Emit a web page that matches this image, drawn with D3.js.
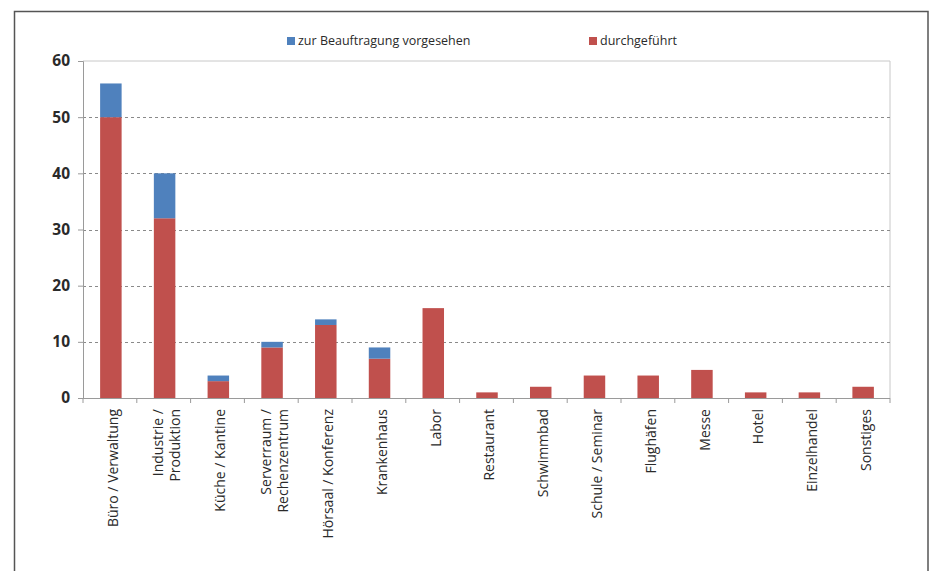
<!DOCTYPE html>
<html>
<head>
<meta charset="utf-8">
<script src="https://cdn.jsdelivr.net/npm/d3@7/dist/d3.min.js"></script>
<style>
  html, body { margin: 0; padding: 0; background: #fff; }
  svg { display: block; font-family: "Open Sans", "Liberation Sans", sans-serif; }
</style>
</head>
<body>
<svg id="chart" width="932" height="571"></svg>
<script>
// Categories (label lines for the rotated axis text)
const categories = [
  ["Büro / Verwaltung"],
  ["Industrie /", "Produktion"],
  ["Küche / Kantine"],
  ["Serverraum /", "Rechenzentrum"],
  ["Hörsaal / Konferenz"],
  ["Krankenhaus"],
  ["Labor"],
  ["Restaurant"],
  ["Schwimmbad"],
  ["Schule / Seminar"],
  ["Flughäfen"],
  ["Messe"],
  ["Hotel"],
  ["Einzelhandel"],
  ["Sonstiges"]
];
// Completed projects
const durchgefuehrt = [50, 32, 3, 9, 13, 7, 16, 1, 2, 4, 4, 5, 1, 1, 2];
// Projects planned for commissioning
const vorgesehen    = [6, 8, 1, 1, 1, 2, 0, 0, 0, 0, 0, 0, 0, 0, 0];
const yTicks = [0, 10, 20, 30, 40, 50, 60];
const seriesNames = ["zur Beauftragung vorgesehen", "durchgeführt"];
const seriesColors = ["#4F81BD", "#C0504D"];

const svg = d3.select("#chart");

// outer frame
svg.append("rect")
  .attr("x", 14.5).attr("y", 11.5)
  .attr("width", 913.5).attr("height", 600)
  .attr("fill", "#fff").attr("stroke", "#555").attr("stroke-width", 1.5);

const plot = { left: 83, top: 61, right: 890, bottom: 398 };

const keys = categories.map((c, i) => i);
const x = d3.scaleBand().domain(keys).range([plot.left + 1, plot.right]).paddingInner(0.6).paddingOuter(0.3);
const xOuter = d3.scaleBand().domain(keys).range([plot.left, plot.right]);
const y = d3.scaleLinear().domain([0, 60]).range([plot.bottom, plot.top]);

// plot area border (top/right)
svg.append("path")
  .attr("d", `M${plot.left},${plot.top}H${plot.right}V${plot.bottom}`)
  .attr("fill", "none").attr("stroke", "#c8c8c8").attr("stroke-width", 1);

// dashed gridlines
svg.append("g").selectAll("line")
  .data(yTicks.filter(t => t > 0 && t < 60))
  .join("line")
  .attr("x1", plot.left).attr("x2", plot.right)
  .attr("y1", d => Math.round(y(d)) + 0.5).attr("y2", d => Math.round(y(d)) + 0.5)
  .attr("stroke", "#8a8a8a").attr("stroke-width", 1)
  .attr("stroke-dasharray", "3,3");

// stacked bars
const stackData = keys.map(i => ({ i, d: durchgefuehrt[i], v: vorgesehen[i] }));
const stack = d3.stack().keys(["d", "v"])(stackData);
const colorOf = { d: seriesColors[1], v: seriesColors[0] };

svg.append("g").selectAll("g")
  .data(stack)
  .join("g")
  .attr("fill", s => colorOf[s.key])
  .selectAll("rect")
  .data(s => s)
  .join("rect")
  .attr("x", d => x(d.data.i))
  .attr("width", x.bandwidth())
  .attr("y", d => y(d[1]))
  .attr("height", d => y(d[0]) - y(d[1]));

// y axis
const yAxis = d3.axisLeft(y).tickValues(yTicks).tickSize(5).tickPadding(8);
const gy = svg.append("g").attr("transform", `translate(${plot.left},0)`).call(yAxis);
gy.select(".domain").attr("stroke", "#9a9a9a");
gy.selectAll(".tick line").attr("stroke", "#9a9a9a");
gy.selectAll(".tick text")
  .attr("font-size", 15.5).attr("font-weight", "bold").attr("fill", "#2a2a2a")
  .attr("font-family", "Open Sans, sans-serif");

// x axis: baseline + ticks at category boundaries
const gx = svg.append("g");
gx.append("line")
  .attr("x1", plot.left).attr("x2", plot.right)
  .attr("y1", plot.bottom + 0.5).attr("y2", plot.bottom + 0.5)
  .attr("stroke", "#9a9a9a");
gx.selectAll("line.tk")
  .data(keys.concat([keys.length]))
  .join("line").attr("class", "tk")
  .attr("x1", d => (d < keys.length ? xOuter(d) : plot.right))
  .attr("x2", d => (d < keys.length ? xOuter(d) : plot.right))
  .attr("y1", plot.bottom).attr("y2", plot.bottom + 5)
  .attr("stroke", "#9a9a9a");

// rotated category labels
const lineH = 17;
const labels = gx.selectAll("text.cat")
  .data(keys)
  .join("text").attr("class", "cat")
  .attr("transform", i => `translate(${xOuter(i) + xOuter.bandwidth() / 2 + 3},${plot.bottom + 11}) rotate(-90)`)
  .attr("text-anchor", "end")
  .attr("font-size", 14)
  .attr("fill", "#2a2a2a");
labels.each(function(i) {
  const lines = categories[i];
  const n = lines.length;
  d3.select(this).selectAll("tspan")
    .data(lines)
    .join("tspan")
    .attr("x", 0)
    .attr("y", (d, k) => (k - (n - 1) / 2) * lineH)
    .attr("dy", "0.35em")
    .text(d => d);
});

// legend
const legendPos = [287, 589];
const lg = svg.append("g");
seriesNames.forEach((name, k) => {
  lg.append("rect")
    .attr("x", legendPos[k]).attr("y", 37)
    .attr("width", 8).attr("height", 8)
    .attr("fill", seriesColors[k]);
  lg.append("text")
    .attr("x", legendPos[k] + 11).attr("y", 41)
    .attr("dy", "0.35em")
    .attr("font-size", 12.5)
    .attr("fill", "#2a2a2a")
    .text(name);
});
</script>
</body>
</html>
